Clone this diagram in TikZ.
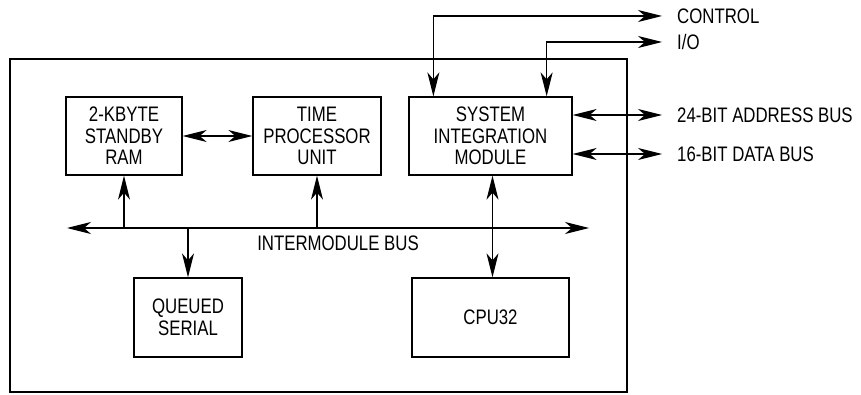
\documentclass[tikz,border=0pt]{standalone}
\usepackage{fontspec}
\setmainfont{Liberation Sans}[FakeStretch=0.8]
\usetikzlibrary{calc, positioning}
\usetikzlibrary{arrows.meta}

\tikzset{>={Stealth[length=24pt, width=12pt, inset=7pt]}}

\begin{document}
\begin{tikzpicture}[x=1pt, y=-1pt,
  every node/.style={font=\fontsize{21}{21.5}\selectfont, align=center},
  unit/.style={draw, line width=1.3pt, inner sep=0pt},
  link/.style={line width=1.2pt}]
\useasboundingbox (0,0) rectangle (861,395);
\def\bus{228}
\def\labx{662}

\coordinate (busL) at (67,\bus);
\coordinate (busR) at (589,\bus);
\coordinate (ctl) at (\labx,16);
\coordinate (io) at (\labx,42);
\coordinate (addr) at (\labx,115);
\coordinate (data) at (\labx,154);

% chip outline
\draw[line width=2.5pt] (10,59) rectangle (627,392);

\node[unit, minimum width=116pt, minimum height=78pt] (ram) at (124,136) {2-KBYTE\\STANDBY\\RAM};
\node[unit, minimum width=128pt, minimum height=78pt] (tpu) at (317,136) {TIME\\PROCESSOR\\UNIT};
\node[unit, minimum width=163pt, minimum height=78pt] (sim) at (490.5,136) {SYSTEM\\INTEGRATION\\MODULE};
\node[unit, minimum width=108pt, minimum height=79pt] (qsm) at (188,317.5) {QUEUED\\SERIAL};
\node[unit, minimum width=157pt, minimum height=79pt] (cpu) at (490.5,317.5) {CPU32};

\draw[link, <->] (busL) -- (busR);
\node (busLbl) at (338,243) {INTERMODULE BUS};

\draw[link, <->] (ram) -- (tpu);
\draw[link, ->] (ram.south |- busL) -- (ram.south);
\draw[link, ->] (tpu.south |- busL) -- (tpu.south);
\draw[link, ->] (qsm.north |- busL) -- (qsm.north);
\draw[link, <->] ([xshift=2pt]sim.south) -- ([xshift=2pt]cpu.north);

\draw[link, <->] ([xshift=25pt]sim.north west) |- (ctl);
\draw[link, <->] ([xshift=-26pt]sim.north east) |- (io);
\draw[link, <->] (sim.east |- addr) -- (addr);
\draw[link, <->] (sim.east |- data) -- (data);

\node[anchor=west, inner sep=0pt] (ctlLbl) at (677,16) {CONTROL};
\node[anchor=west, inner sep=0pt] (ioLbl) at (677,42) {I/O};
\node[anchor=west, inner sep=0pt] (addrLbl) at (677,115) {24-BIT ADDRESS BUS};
\node[anchor=west, inner sep=0pt] (dataLbl) at (677,154) {16-BIT DATA BUS};
\end{tikzpicture}
\end{document}
